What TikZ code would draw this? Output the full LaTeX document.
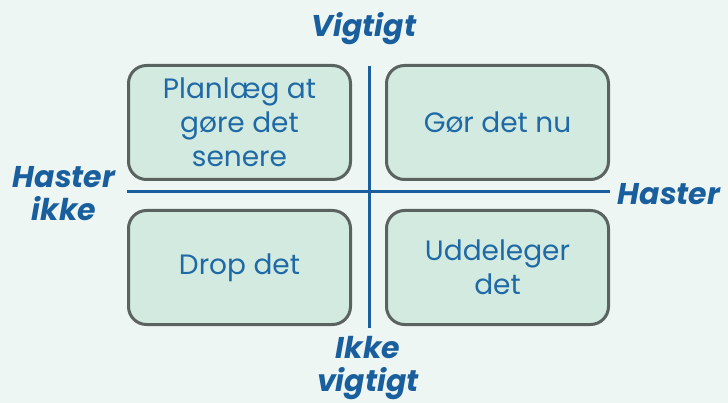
\documentclass[tikz,border=0pt]{standalone}
\usepackage{fontspec}
\setmainfont{Poppins}
\begin{document}
\begin{tikzpicture}[x=1pt,y=-1pt,
  quad/.style={draw=bordc,line width=3pt,fill=boxc,rounded corners=18pt,minimum width=222pt,minimum height=114pt,inner sep=0pt,align=center,text=txtc,font=\fontsize{28}{34}\selectfont},
  axis/.style={draw=axc,line width=3pt},
  lab/.style={text=axc,font=\fontsize{30}{33}\selectfont\bfseries\itshape,align=center,inner sep=0pt}]
\definecolor{bgc}{HTML}{EEF6F4}
\definecolor{boxc}{HTML}{D3EAE0}
\definecolor{bordc}{HTML}{5A6360}
\definecolor{txtc}{HTML}{1F69A6}
\definecolor{axc}{HTML}{1A5F9D}
\fill[bgc] (0,0) rectangle (728,403);
\useasboundingbox (0,0) rectangle (728,403);
\coordinate (hl) at (127,192);
\coordinate (hr) at (610,192);
\coordinate (vt) at (369,66);
\coordinate (vb) at (369,328);
\draw[axis] (hl) -- (hr);
\draw[axis] (vt) -- (vb);
\node[quad] (tl) at (239.5,122.5) {Planlæg at\\gøre det\\senere};
\node[quad] (tr) at (497.5,122.5) {Gør det nu};
\node[quad] (bl) at (239.5,267.5) {Drop det};
\node[quad] (br) at (497.5,267.5) {Uddeleger\\det};
\node[lab] (top) at (364,29) {Vigtigt};
\node[lab] (left) at (64,194) {Haster\\ikke};
\node[lab] (right) at (669,194) {Haster};
\node[lab] (bot) at (368,368) {Ikke\\vigtigt};
\end{tikzpicture}
\end{document}
